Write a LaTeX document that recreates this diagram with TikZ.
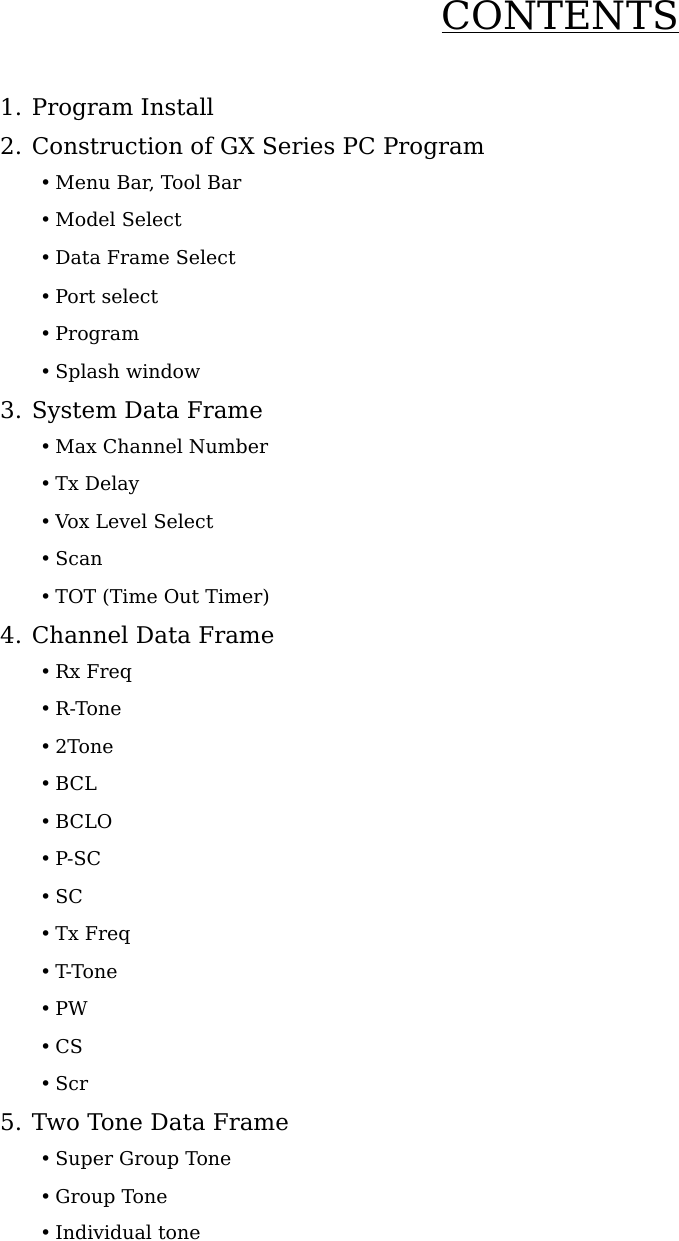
\documentclass[tikz,border=0pt]{standalone}
\usepackage{fontspec}
\setmainfont{DejaVu Serif}
\begin{document}
\begin{tikzpicture}[x=1pt,y=-1pt,
 head/.style={anchor=base west,inner sep=0pt,font=\fontsize{23}{26}\selectfont},
 item/.style={anchor=base west,inner sep=0pt,font=\fontsize{19}{22}\selectfont}]
\useasboundingbox (0,0) rectangle (679,1241);
\node[anchor=base east,inner sep=0pt,font=\fontsize{39}{42}\selectfont] (title) at (679,30) {\underline{CONTENTS}};
\foreach \t/\y [count=\i] in {1. Program Install/108, 2. Construction of GX Series PC Program/147, 3. System Data Frame/410, 4. Channel Data Frame/635, 5. Two Tone Data Frame/1122}
  \node[head] (h\i) at (0,\y+8) {\t};
\foreach \t/\y [count=\i] in {{Menu Bar, Tool Bar}/184, Model Select/221, Data Frame Select/259, Port select/297, Program/334, Splash window/372,
 Max Channel Number/447, Tx Delay/484, Vox Level Select/522, Scan/559, TOT (Time Out Timer)/597,
 Rx Freq/672, R-Tone/709, 2Tone/747, BCL/784, BCLO/822, P-SC/859, SC/897, Tx Freq/934, T-Tone/972, PW/1009, CS/1047, Scr/1084,
 Super Group Tone/1159, Group Tone/1197, Individual tone/1233}
  \node[item] (b\i) at (40,\y+6) {•\hspace{4pt}\t};
\end{tikzpicture}
\end{document}
